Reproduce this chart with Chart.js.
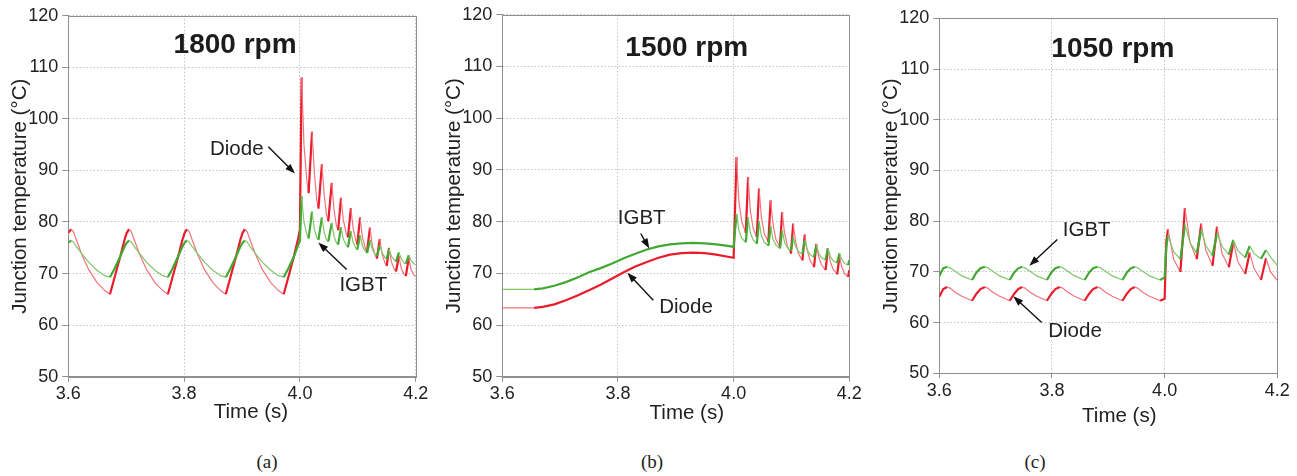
<!DOCTYPE html>
<html>
<head>
<meta charset="utf-8">
<script src="https://cdn.jsdelivr.net/npm/chart.js@4.4.1/dist/chart.umd.min.js"></script>
<style>
body{margin:0;background:#fff;width:1297px;height:476px;overflow:hidden;position:relative;}
canvas{position:absolute;top:0;}
.cap{position:absolute;top:451px;line-height:22px;font-family:"Liberation Serif","Times New Roman",serif;font-size:19px;color:#222;transform:translateX(-50%);}
</style>
</head>
<body>
<canvas id="chartA" width="436" height="440" style="left:0px"></canvas>
<canvas id="chartB" width="436" height="440" style="left:434px"></canvas>
<canvas id="chartC" width="426" height="440" style="left:871px"></canvas>
<div class="cap" style="left:267px">(a)</div>
<div class="cap" style="left:652px">(b)</div>
<div class="cap" style="left:1035px">(c)</div>
<script>
// axis ticks
const timeTicks=[3.6,3.8,4.0,4.2];
const tempTicks=[50,60,70,80,90,100,110,120];

// (a) 1800 rpm
const timeA=[
3.600,
3.605,3.609,3.614,3.623,3.635,3.650,3.663,3.672,3.680,3.690,3.697,3.701,
3.705,3.709,3.714,3.723,3.735,3.750,3.763,3.772,3.780,3.790,3.797,3.801,
3.805,3.809,3.814,3.823,3.835,3.850,3.863,3.872,3.880,3.890,3.897,3.901,
3.905,3.909,3.914,3.923,3.935,3.950,3.963,3.972,3.980,3.990,3.997,4.000,
4.003,4.007,4.012,4.015,
4.021,4.025,4.029,4.032,
4.038,4.042,4.046,4.049,
4.055,4.059,4.063,4.066,
4.071,4.075,4.080,4.083,
4.088,4.092,4.097,4.099,
4.104,4.108,4.113,4.116,
4.121,4.125,4.130,4.133,
4.138,4.142,4.147,4.150,
4.154,4.158,4.163,4.166,
4.171,4.175,4.180,4.183,
4.188,4.192,4.197,4.200];
const diodeA=[
77.9,
78.6,78.1,76.5,73.8,70.8,68.2,66.7,66.0,69.3,73.4,76.5,77.9,
78.6,78.1,76.5,73.8,70.8,68.2,66.7,66.0,69.3,73.4,76.5,77.9,
78.6,78.1,76.5,73.8,70.8,68.2,66.7,66.0,69.3,73.4,76.5,77.9,
78.6,78.1,76.5,73.8,70.8,68.2,66.7,66.0,69.3,73.5,76.8,78.5,
108.0,95.0,88.0,85.6,
97.5,89.5,84.3,82.6,
91.2,85.2,81.4,80.1,
87.6,82.3,79.3,78.4,
84.7,80.4,77.8,77.0,
82.7,78.7,76.2,75.6,
80.9,77.0,74.9,74.3,
78.9,75.5,73.5,72.9,
76.7,73.8,72.0,71.5,
75.0,72.3,70.8,70.4,
73.4,71.0,69.8,69.5,
73.0,70.8,69.7,69.4];
const igbtA=[
76.0,
76.4,76.1,75.2,73.9,72.2,70.6,69.6,69.3,71.0,73.4,75.2,76.0,
76.4,76.1,75.2,73.9,72.2,70.6,69.6,69.3,71.0,73.4,75.2,76.0,
76.4,76.1,75.2,73.9,72.2,70.6,69.6,69.3,71.0,73.4,75.2,76.0,
76.4,76.1,75.2,73.9,72.2,70.6,69.6,69.3,71.0,73.4,75.5,76.3,
85.0,80.0,77.6,76.8,
82.0,78.6,77.0,76.5,
80.9,77.9,76.6,76.2,
79.8,77.2,76.0,75.6,
79.0,76.7,75.5,75.1,
78.2,76.0,74.9,74.6,
77.4,75.4,74.3,74.0,
76.5,74.7,73.7,73.4,
75.5,74.0,73.1,72.8,
74.7,73.4,72.6,72.3,
74.1,72.9,72.1,71.9,
73.6,72.5,71.9,71.7];

// (b) 1500 rpm
const timeB=[
3.600,3.655,3.670,3.690,3.710,3.730,3.750,3.770,3.790,3.810,
3.830,3.850,3.870,3.890,3.910,3.930,3.950,3.970,3.990,4.000,
4.005,4.009,4.014,4.021,
4.025,4.029,4.034,4.040,
4.044,4.048,4.053,4.060,
4.064,4.068,4.073,4.080,
4.084,4.088,4.093,4.099,
4.103,4.107,4.112,4.119,
4.123,4.127,4.132,4.139,
4.143,4.147,4.152,4.159,
4.163,4.167,4.172,4.179,
4.183,4.187,4.192,4.198,
4.200];
const diodeB=[
63.3,63.3,63.5,64.0,64.8,65.7,66.7,67.8,69.0,70.2,
71.3,72.2,73.0,73.6,73.9,74.0,73.9,73.6,73.2,73.0,
92.5,84.0,80.0,77.8,
88.6,82.0,78.6,77.0,
86.4,80.8,77.6,76.1,
84.1,79.5,76.6,75.1,
81.8,77.8,75.2,73.8,
79.6,76.2,73.8,72.5,
77.5,74.6,72.5,71.2,
75.7,73.2,71.6,70.6,
74.8,72.3,70.8,69.8,
73.2,71.2,69.9,69.3,
70.6];
const igbtB=[
66.9,66.9,67.1,67.6,68.3,69.2,70.2,71.0,71.9,72.9,
73.8,74.6,75.2,75.6,75.8,75.9,75.8,75.6,75.3,75.1,
81.5,78.4,76.8,76.0,
80.8,77.8,76.4,75.7,
80.1,77.3,76.0,75.3,
79.1,76.6,75.5,74.8,
78.3,76.0,74.9,74.3,
77.0,75.2,74.2,73.7,
76.4,74.6,73.6,73.1,
75.4,73.9,73.0,72.6,
74.8,73.3,72.4,72.0,
73.9,72.7,71.9,71.6,
72.5];

// (c) 1050 rpm
const timeC=[
3.600,3.607,
3.614,3.619,3.628,3.640,3.658,3.666,3.673,
3.681,3.686,3.695,3.707,3.725,3.733,3.740,
3.747,3.752,3.761,3.773,3.791,3.799,3.806,
3.814,3.819,3.828,3.840,3.858,3.866,3.873,
3.881,3.886,3.895,3.907,3.925,3.933,3.940,
3.947,3.952,3.961,3.973,3.992,4.000,
4.003,4.006,4.016,4.028,
4.036,4.045,4.057,
4.065,4.073,4.085,
4.093,4.102,4.114,
4.122,4.130,4.143,
4.151,4.159,4.171,
4.180,4.188,4.200];
const diodeC=[
65.1,66.6,
67.0,66.8,66.0,65.2,64.3,65.7,66.6,
67.0,66.8,66.0,65.2,64.3,65.7,66.6,
67.0,66.8,66.0,65.2,64.3,65.7,66.6,
67.0,66.8,66.0,65.2,64.3,65.7,66.6,
67.0,66.8,66.0,65.2,64.3,65.7,66.6,
67.0,66.8,66.0,65.2,64.3,64.7,
76.0,78.4,72.5,70.0,
82.6,75.8,72.5,
79.5,74.3,71.2,
78.9,73.6,70.9,
75.9,72.0,69.6,
73.8,70.6,68.4,
72.7,70.0,68.3];
const igbtC=[
69.2,70.7,
71.0,70.8,70.1,69.2,68.4,69.9,70.7,
71.0,70.8,70.1,69.2,68.4,69.9,70.7,
71.0,70.8,70.1,69.2,68.4,69.9,70.7,
71.0,70.8,70.1,69.2,68.4,69.9,70.7,
71.0,70.8,70.1,69.2,68.4,69.9,70.7,
71.0,70.8,70.1,69.2,68.4,68.9,
75.0,77.2,74.0,72.5,
79.3,75.8,73.7,
78.3,75.2,73.2,
77.6,75.0,73.4,
76.3,74.2,72.8,
75.1,73.6,72.6,
74.3,72.9,71.3];

const RED="rgb(232,28,42)", RED_LIGHT="rgb(243,115,125)";
const GREEN="rgb(66,168,50)", GREEN_LIGHT="rgb(128,198,104)";
const FONT='"Liberation Sans", Arial, sans-serif';

// labels, arrows and titles per panel (data coordinates)
const PANELS={
chartA:{title:"1800 rpm",titleAt:[3.888,114.3],xTitleGap:35.3,xTitleShift:9,
 notes:[
  {text:"Diode",at:[3.891,94.0],from:[3.9454,94.6],to:[3.9915,89.4]},
  {text:"IGBT",at:[4.1095,67.8],from:[4.0808,70.8],to:[4.0318,76.0]}
 ]},
chartB:{title:"1500 rpm",titleAt:[3.919,113.6],xTitleGap:36.6,xTitleShift:11,
 notes:[
  {text:"IGBT",at:[3.841,80.6],from:[3.8393,77.7],to:[3.8542,74.8]},
  {text:"Diode",at:[3.9177,63.5],from:[3.8611,64.8],to:[3.8162,70.1]}
 ]},
chartC:{title:"1050 rpm",titleAt:[3.908,113.8],xTitleGap:43.4,xTitleShift:11,
 notes:[
  {text:"IGBT",at:[3.8617,78.1],from:[3.8095,76.4],to:[3.7598,71.2]},
  {text:"Diode",at:[3.8409,58.2],from:[3.7818,60.0],to:[3.7314,65.2]}
 ]}
};

function drawArrow(ctx,x1,y1,x2,y2){
const a=Math.atan2(y2-y1,x2-x1), len=10, half=3.6;
const bx=x2-len*Math.cos(a), by=y2-len*Math.sin(a);
ctx.beginPath();
ctx.moveTo(x1,y1);
ctx.lineTo(bx+2*Math.cos(a),by+2*Math.sin(a));
ctx.stroke();
ctx.beginPath();
ctx.moveTo(x2,y2);
ctx.lineTo(bx+half*Math.sin(a),by-half*Math.cos(a));
ctx.lineTo(bx-half*Math.sin(a),by+half*Math.cos(a));
ctx.closePath();
ctx.fill();
}

const panelNotes={
id:"panelNotes",
beforeDatasetsDraw(chart){
const {ctx,chartArea:a}=chart;
ctx.save();
ctx.strokeStyle="#8f8f8f";
ctx.lineWidth=1;
const l=Math.round(a.left)+0.5,t=Math.round(a.top)+0.5,r=Math.round(a.right)+0.5,b=Math.round(a.bottom)+0.5;
ctx.strokeRect(l,t,r-l,b-t);
ctx.restore();
},
afterDraw(chart){
const p=PANELS[chart.canvas.id];
const {ctx,chartArea:a,scales:{x,y}}=chart;
ctx.save();
ctx.fillStyle="#1c1c1c";
ctx.textAlign="center";
ctx.textBaseline="middle";
ctx.font="bold 28px "+FONT;
ctx.fillText(p.title,x.getPixelForValue(p.titleAt[0]),y.getPixelForValue(p.titleAt[1]));
ctx.font="20.5px "+FONT;
ctx.fillStyle="#222";
ctx.fillText("Time (s)",(a.left+a.right)/2+p.xTitleShift,a.bottom+p.xTitleGap);
ctx.strokeStyle="#111";
ctx.lineWidth=1.4;
p.notes.forEach(n=>{
ctx.fillStyle="#222";
ctx.fillText(n.text,x.getPixelForValue(n.at[0]),y.getPixelForValue(n.at[1]));
ctx.fillStyle="#111";
drawArrow(ctx,x.getPixelForValue(n.from[0]),y.getPixelForValue(n.from[1]),
x.getPixelForValue(n.to[0]),y.getPixelForValue(n.to[1]));
});
ctx.restore();
}
};

// rising or slowly drifting parts look dense in the original, fast decays look thin
function isDense(c){
const dy=c.p1.parsed.y-c.p0.parsed.y, dt=c.p1.parsed.x-c.p0.parsed.x;
const slope=dy/dt;
return slope>0 || (slope<0 && slope>-30);
}

function lineSet(label,time,values,dark,light){
return {
label:label,
data:time.map((t,i)=>({x:t,y:values[i]})),
borderColor:light,
borderWidth:1.2,
pointRadius:0,
tension:0,
segment:{
borderColor:c=>isDense(c)?dark:light,
borderWidth:c=>isDense(c)?2.2:1.2
}
};
}

function buildChart(id,time,diode,igbt,pad){
return new Chart(document.getElementById(id),{
type:"line",
data:{datasets:[
lineSet("IGBT",time,igbt,GREEN,GREEN_LIGHT),
lineSet("Diode",time,diode,RED,RED_LIGHT)
]},
options:{
responsive:false,
animation:false,
devicePixelRatio:1,
layout:{padding:pad},
plugins:{legend:{display:false},tooltip:{enabled:false}},
scales:{
x:{
type:"linear",min:3.6,max:4.2,
afterBuildTicks:s=>{s.ticks=timeTicks.map(v=>({value:v}));},
afterFit:s=>{s.height=30;},
ticks:{color:"#222",font:{size:18,family:FONT},padding:2,callback:v=>v.toFixed(1),maxRotation:0},
grid:{color:"#c4c4c4",tickColor:"#8f8f8f",tickLength:5},
border:{color:"#8f8f8f",dash:[1.5,2]}
},
y:{
min:50,max:120,
afterBuildTicks:s=>{s.ticks=tempTicks.map(v=>({value:v}));},
afterFit:s=>{s.width=64;},
ticks:{color:"#222",font:{size:18,family:FONT},padding:4},
grid:{color:"#c4c4c4",tickColor:"#8f8f8f",tickLength:6},
border:{color:"#8f8f8f",dash:[1.5,2]},
title:{display:true,text:"Junction temperature (°C)",color:"#222",font:{size:20.5,family:FONT},padding:{top:4,bottom:0}}
}
}
},
plugins:[panelNotes]
});
}

buildChart("chartA",timeA,diodeA,igbtA,{left:4.3,right:20.3,top:15.7,bottom:33.3});
buildChart("chartB",timeB,diodeB,igbtB,{left:4.3,right:20.7,top:14,bottom:33.3});
buildChart("chartC",timeC,diodeC,igbtC,{left:4.3,right:19.7,top:18.3,bottom:36.7});
</script>
</body>
</html>
